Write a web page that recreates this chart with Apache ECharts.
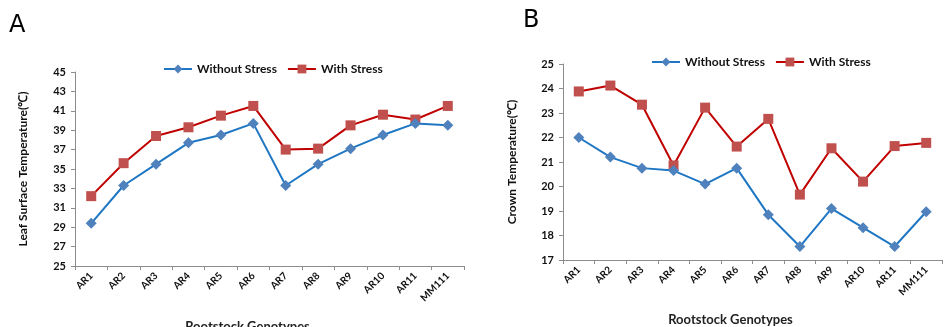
<!DOCTYPE html>
<html><head><meta charset="utf-8">
<script src="https://cdn.jsdelivr.net/npm/echarts@6/dist/echarts.min.js"></script>
<style>html,body{margin:0;padding:0;background:#fff}#c{width:944px;height:327px}</style>
</head><body><div id="c"></div>
<script>
const categories = ['AR1','AR2','AR3','AR4','AR5','AR6','AR7','AR8','AR9','AR10','AR11','MM111'];
const leafWithout = [29.4,33.3,35.5,37.7,38.5,39.7,33.3,35.5,37.1,38.5,39.7,39.5];
const leafWith = [32.2,35.6,38.4,39.3,40.5,41.5,37.0,37.1,39.5,40.6,40.1,41.5];
const crownWithout = [22.0,21.2,20.75,20.65,20.1,20.75,18.85,17.55,19.1,18.32,17.55,18.97];
const crownWith = [23.88,24.12,23.34,20.86,23.22,21.63,22.76,19.67,21.56,20.2,21.65,21.78];
const seriesNames = ['Without Stress','With Stress'];
const FONT = 'Lato';
const blueLine = '#1F77C4', blueMark = '#4F81BD', redLine = '#C00000', redMark = '#C0504D';
const chart = echarts.init(document.getElementById('c'));
function xAx(gi, gap){
  return {type:'category', gridIndex:gi, data:categories, boundaryGap:true,
    name:'Rootstock Genotypes', nameLocation:'middle', nameGap:gap,
    nameTextStyle:{fontFamily:FONT,fontWeight:'bold',fontSize:13,color:'#222',padding:[0,44,0,0]},
    axisLine:{lineStyle:{color:'#8c8c8c'}}, axisTick:{show:true,length:4,lineStyle:{color:'#8c8c8c'}},
    axisLabel:{rotate:45,fontFamily:FONT,fontWeight:'bold',fontSize:10,color:'#111',margin:8,interval:0}};
}
function yAx(gi,min,max,interval,name,gap){
  return {type:'value', gridIndex:gi, min:min, max:max, interval:interval,
    name:name, nameLocation:'middle', nameGap:gap,
    nameTextStyle:{fontFamily:FONT,fontWeight:'bold',fontSize:12,color:'#111'},
    axisLine:{show:true,lineStyle:{color:'#8c8c8c'}}, axisTick:{show:true,length:4,lineStyle:{color:'#8c8c8c'}},
    splitLine:{show:false},
    axisLabel:{fontFamily:FONT,fontWeight:'bold',fontSize:11,color:'#111',margin:9}};
}
function ser(name,xi,data,isBlue){
  return {name:name,type:'line',xAxisIndex:xi,yAxisIndex:xi,data:data,
    symbol: isBlue?'diamond':'rect', symbolSize: isBlue?[11,11]:[10,10],
    lineStyle:{color:isBlue?blueLine:redLine,width:2},
    itemStyle:{color:isBlue?blueMark:redMark},
    emphasis:{disabled:true}, z: isBlue?3:2};
}
const legendCommon = {itemWidth:28,itemHeight:11,itemGap:10,
  textStyle:{fontFamily:FONT,fontWeight:'bold',fontSize:12,color:'#111'}};
chart.setOption({
  animation:false,
  graphic:[
    {type:'text',left:9,top:14,style:{text:'A',font:'24px "DejaVu Sans"',fill:'#000'}},
    {type:'text',left:523,top:9,style:{text:'B',font:'24px "DejaVu Sans"',fill:'#000'}}
  ],
  legend:[
    Object.assign({data:seriesNames,left:158,top:58},legendCommon),
    Object.assign({data:seriesNames,left:646,top:51},legendCommon)
  ],
  grid:[
    {left:75,right:480,top:72,bottom:61,outerBoundsMode:'none',containLabel:false},
    {left:563,right:2,top:64,bottom:67,outerBoundsMode:'none',containLabel:false}
  ],
  xAxis:[xAx(0,54),xAx(1,53)],
  yAxis:[yAx(0,25,45,2,'Leaf Surface Temperature(℃)',46),yAx(1,17,25,1,'Crown Temperature(℃)',45)],
  series:[
    ser(seriesNames[0],0,leafWithout,true),
    ser(seriesNames[1],0,leafWith,false),
    ser(seriesNames[0],1,crownWithout,true),
    ser(seriesNames[1],1,crownWith,false)
  ]
});
</script></body></html>
